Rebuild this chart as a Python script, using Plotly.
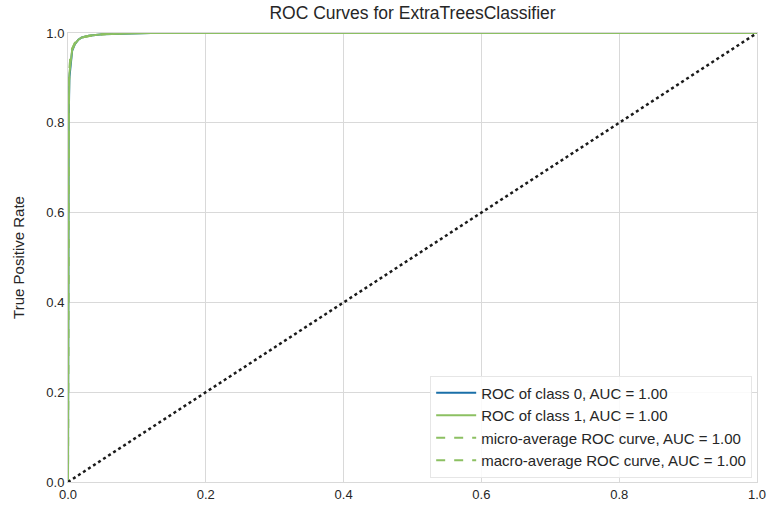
import plotly.graph_objects as go

fpr0 = [0.0, 0.0, 0.001, 0.002, 0.004, 0.006, 0.01, 0.015, 0.02, 0.03, 0.05, 0.08, 0.12, 1.0]
tpr0 = [0.0, 0.6, 0.8, 0.9, 0.94, 0.96, 0.975, 0.985, 0.99, 0.994, 0.997, 0.999, 1.0, 1.0]
fpr1 = [0.0, 0.0, 0.001, 0.002, 0.004, 0.006, 0.01, 0.015, 0.02, 0.03, 0.05, 0.08, 0.12, 1.0]
tpr1 = [0.0, 0.62, 0.82, 0.91, 0.945, 0.962, 0.976, 0.985, 0.99, 0.994, 0.997, 0.999, 1.0, 1.0]
fpr_micro = [0.0, 0.0, 0.001, 0.003, 0.006, 0.01, 0.02, 0.04, 0.08, 1.0]
tpr_micro = [0.0, 0.7, 0.88, 0.94, 0.965, 0.978, 0.99, 0.996, 1.0, 1.0]
fpr_macro = [0.0, 0.0, 0.001, 0.003, 0.006, 0.01, 0.02, 0.04, 0.08, 1.0]
tpr_macro = [0.0, 0.7, 0.88, 0.94, 0.965, 0.978, 0.99, 0.996, 1.0, 1.0]
diag = [0.0, 1.0]

names = ["ROC of class 0, AUC = 1.00", "ROC of class 1, AUC = 1.00",
         "micro-average ROC curve, AUC = 1.00", "macro-average ROC curve, AUC = 1.00"]

fig = go.Figure()
fig.add_trace(go.Scatter(x=fpr0, y=tpr0, mode="lines", name=names[0],
                         line=dict(color="#1a6fa8", width=2)))
fig.add_trace(go.Scatter(x=fpr1, y=tpr1, mode="lines", name=names[1],
                         line=dict(color="#8cc062", width=2)))
fig.add_trace(go.Scatter(x=fpr_micro, y=tpr_micro, mode="lines", name=names[2],
                         line=dict(color="#8cc062", width=2, dash="dash")))
fig.add_trace(go.Scatter(x=fpr_macro, y=tpr_macro, mode="lines", name=names[3],
                         line=dict(color="#8cc062", width=2, dash="dash")))
fig.add_trace(go.Scatter(x=diag, y=diag, mode="lines", showlegend=False,
                         line=dict(color="#1a1a1a", width=2.5, dash="dot")))

fig.update_layout(
    width=769, height=508,
    margin=dict(l=68, r=12, t=33, b=26),
    paper_bgcolor="white", plot_bgcolor="white",
    font=dict(family="Liberation Sans, Arial, sans-serif", size=13, color="#333333"),
    title=dict(text="ROC Curves for ExtraTreesClassifier", x=0.5, xanchor="center", xref="paper",
               y=0.975, yanchor="middle", font=dict(size=17.5, color="#262626")),
    xaxis=dict(range=[0, 1], tickvals=[0, 0.2, 0.4, 0.6, 0.8, 1.0], tickformat=".1f",
               showgrid=True, gridcolor="#d9d9d9", gridwidth=1.2, zeroline=False,
               showline=True, linecolor="#d9d9d9", mirror=True, ticks="",
               automargin=False,
               tickfont=dict(size=13, color="#262626")),
    yaxis=dict(range=[0, 1], tickvals=[0, 0.2, 0.4, 0.6, 0.8, 1.0], tickformat=".1f",
               showgrid=True, gridcolor="#d9d9d9", gridwidth=1.2, zeroline=False,
               showline=True, linecolor="#d9d9d9", mirror=True, ticks="",
               automargin=False,
               title=dict(text="True Positive Rate", font=dict(size=15, color="#262626"), standoff=18),
               tickfont=dict(size=13, color="#262626")),
    legend=dict(x=0.993, y=0.01, xanchor="right", yanchor="bottom",
                bgcolor="rgba(255,255,255,0.85)", bordercolor="#e6e6e6", borderwidth=1,
                font=dict(size=15, color="#262626"), tracegroupgap=0,
                itemwidth=40),
    showlegend=True,
)

fig.write_html("out.html")
